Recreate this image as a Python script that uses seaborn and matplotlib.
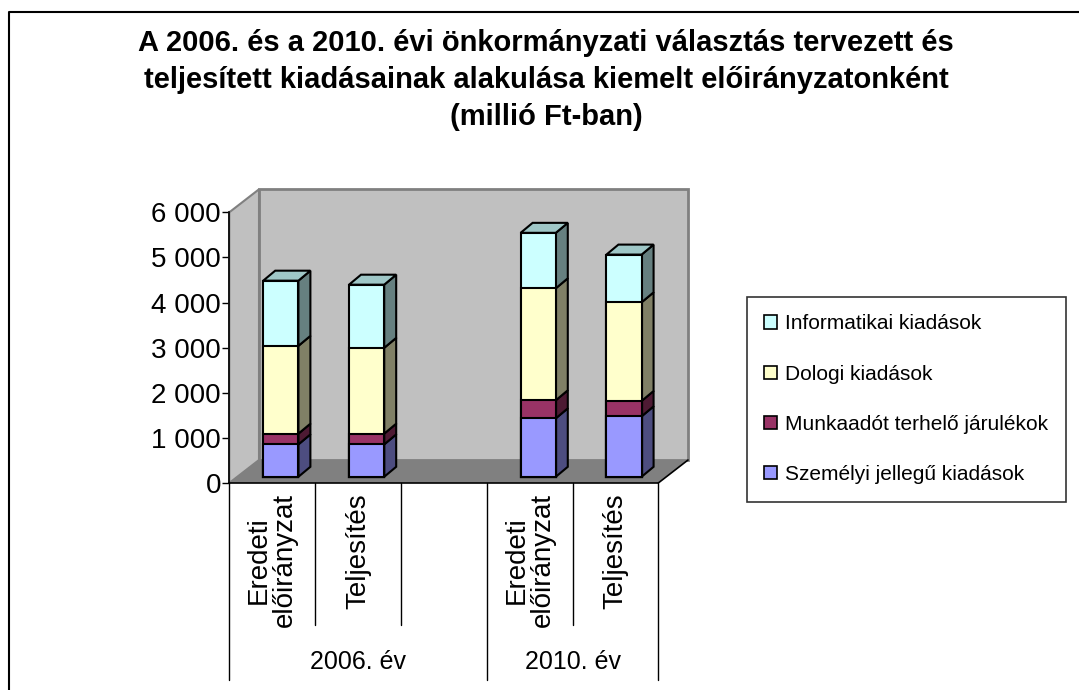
import numpy as np
import pandas as pd
import matplotlib
matplotlib.use("Agg")
import matplotlib.pyplot as plt
import matplotlib.transforms as mtransforms
from matplotlib.patches import Polygon, Patch
from matplotlib.lines import Line2D
import seaborn as sns

# data (millió Ft)
slots = ["2006 Eredeti", "2006 Teljesítés", "", "2010 Eredeti", "2010 Teljesítés"]
slot_labels = ["Eredeti\nelőirányzat", "Teljesítés", "", "Eredeti\nelőirányzat", "Teljesítés"]
bar_slots = ["2006 Eredeti", "2006 Teljesítés", "2010 Eredeti", "2010 Teljesítés"]
groups = ["2006. év", "2010. év"]
group_slots = [[0, 1, 2], [3, 4]]

szemelyi = [718, 718, 1296, 1340]
munkaado = [238, 238, 400, 341]
dologi = [1946, 1902, 2482, 2186]
informatikai = [1445, 1400, 1229, 1058]

series_names = ["Személyi jellegű kiadások", "Munkaadót terhelő járulékok",
                "Dologi kiadások", "Informatikai kiadások"]
series_colors = ["#9999FF", "#993366", "#FFFFCC", "#CCFFFF"]

yticks = [0, 1000, 2000, 3000, 4000, 5000, 6000]

title = ("A 2006. és a 2010. évi önkormányzati választás tervezett és\n"
         "teljesített kiadásainak alakulása kiemelt előirányzatonként\n"
         "(millió Ft-ban)")

sns.set_style("white")
plt.rcParams["font.family"] = ["Liberation Sans", "DejaVu Sans"]
plt.rcParams["text.color"] = "black"
plt.rcParams["ytick.color"] = "black"
plt.rcParams["xtick.color"] = "black"

df = pd.DataFrame({"slot": bar_slots, series_names[0]: szemelyi, series_names[1]: munkaado,
                   series_names[2]: dologi, series_names[3]: informatikai})
vals = df[series_names].to_numpy()
cum = vals.cumsum(axis=1)
for k, name in enumerate(series_names):
    df["cum_" + str(k)] = cum[:, k]

W, H = 1079, 690
fig = plt.figure(figsize=(W / 100, H / 100), dpi=100)
ax = fig.add_axes([229.3 / W, 1 - 483 / H, 429 / W, 270.7 / H])
ax.set_facecolor("none")

# 3d look: depth of the box and the bar placement in pixels
DX, DY = 29.7, 23.0
BX, BY = 8.6, 6.2
bx, by = 12.0, 10.0
bar_w = 0.41

# stacked bars: draw cumulative totals from the top series downwards
for k in range(3, -1, -1):
    sns.barplot(data=df, x="slot", y="cum_" + str(k), order=slots, color=series_colors[k],
                saturation=1, width=bar_w, edgecolor="black", linewidth=1.5, ax=ax, zorder=3)

ax.set_xlim(-0.5, 4.5)
ax.set_ylim(0, 6000)
ax.set_xlabel("")
ax.set_ylabel("")

shift = mtransforms.ScaledTranslation(BX / 100, BY / 100, fig.dpi_scale_trans)
for p in ax.patches:
    p.set_transform(ax.transData + shift)

ident = mtransforms.IdentityTransform()


def disp(x, y):
    return ax.transData.transform((x, y)) + np.array([BX, BY])


def darker(c, f):
    r, g, b = matplotlib.colors.to_rgb(c)
    return (r * f, g * f, b * f)


# side and top faces
for i, s in enumerate(bar_slots):
    xpos = slots.index(s)
    bottoms = np.concatenate([[0], cum[i, :-1]])
    for k in range(4):
        x0, y0 = disp(xpos - bar_w / 2, bottoms[k])
        x1, y1 = disp(xpos + bar_w / 2, cum[i, k])
        side = Polygon([(x1, y0), (x1, y1), (x1 + bx, y1 + by), (x1 + bx, y0 + by)],
                       closed=True, transform=ident, facecolor=darker(series_colors[k], 0.5),
                       edgecolor="black", linewidth=1.5, zorder=2.5, clip_on=False)
        ax.add_patch(side)
        if k == 3:
            top = Polygon([(x0, y1), (x1, y1), (x1 + bx, y1 + by), (x0 + bx, y1 + by)],
                          closed=True, transform=ident, facecolor=darker(series_colors[k], 0.78),
                          edgecolor="black", linewidth=1.5, zorder=2.5, clip_on=False)
            ax.add_patch(top)

# walls and floor
a00 = ax.transAxes.transform((0, 0))
a01 = ax.transAxes.transform((0, 1))
a10 = ax.transAxes.transform((1, 0))
a11 = ax.transAxes.transform((1, 1))
d = np.array([DX, DY])
back = Polygon([a00 + d, a10 + d, a11 + d, a01 + d], closed=True, transform=ident,
               facecolor="#C0C0C0", edgecolor="#808080", linewidth=2, zorder=0.5, clip_on=False)
left = Polygon([a00, a01, a01 + d, a00 + d], closed=True, transform=ident,
               facecolor="#C0C0C0", edgecolor="#808080", linewidth=1.5, zorder=0.6, clip_on=False)
floor = Polygon([a00, a10, a10 + d, a00 + d], closed=True, transform=ident,
                facecolor="#808080", edgecolor="none", zorder=0.7, clip_on=False)
for p in (back, left, floor):
    ax.add_patch(p)
ax.add_line(Line2D([a10[0], a10[0] + DX], [a10[1], a10[1] + DY], transform=ident,
                   color="black", linewidth=1.2, zorder=0.8, clip_on=False))

# axes
for sp in ["top", "right"]:
    ax.spines[sp].set_visible(False)
ax.spines["left"].set_color("black")
ax.spines["bottom"].set_color("black")
ax.spines["left"].set_linewidth(1.2)
ax.spines["bottom"].set_linewidth(1.2)
ax.set_yticks(yticks)
ax.set_yticklabels([f"{v:,}".replace(",", " ") for v in yticks])
ax.tick_params(axis="y", direction="out", length=5, width=1, color="black",
               labelcolor="black", labelsize=20, pad=1, left=True)
ax.set_xticks([])

# category labels and separators
sep_tr = mtransforms.blended_transform_factory(ax.transData, ax.transAxes)
short_y = (483 - 625) / 270.7
long_y = (483 - 680) / 270.7
group_edges = [-0.5] + [g[-1] + 0.5 for g in group_slots]
for e in np.arange(-0.5, len(slots), 1.0):
    ybot = long_y if e in group_edges else short_y
    ax.plot([e, e], [0, ybot], transform=sep_tr, color="black", linewidth=1, clip_on=False)
for i, lab in enumerate(slot_labels):
    if lab:
        ax.text(i, -10 / 270.7, lab, transform=sep_tr, rotation=90, ha="center", va="top",
                multialignment="center", fontsize=20, linespacing=1.0)
for g, idx in zip(groups, group_slots):
    ax.text(np.mean(idx), (483 - 662) / 270.7, g, transform=sep_tr, ha="center",
            va="center", fontsize=18)

# legend
handles = [Patch(facecolor=series_colors[k], edgecolor="black", linewidth=1.2,
                 label=series_names[k]) for k in range(3, -1, -1)]
leg = fig.legend(handles=handles, loc="upper left", bbox_to_anchor=(746.7 / W, 1 - 296.7 / H),
                 frameon=True, fancybox=False, edgecolor="black", fontsize=15,
                 handlelength=0.6, handleheight=0.6, handletextpad=0.4, labelspacing=1.5,
                 borderpad=0.85, borderaxespad=0)
leg.get_frame().set_linewidth(1.2)

fig.text(546 / W, 1 - 80 / H, title, ha="center", va="center", fontsize=21,
         fontweight="bold", linespacing=1.4)

# outer chart border (left and top edges visible)
fig.add_artist(Line2D([9 / W, 9 / W, 1], [0, 1 - 12 / H, 1 - 12 / H],
                      color="black", linewidth=1.5))

fig.savefig("out.png", dpi=100)
